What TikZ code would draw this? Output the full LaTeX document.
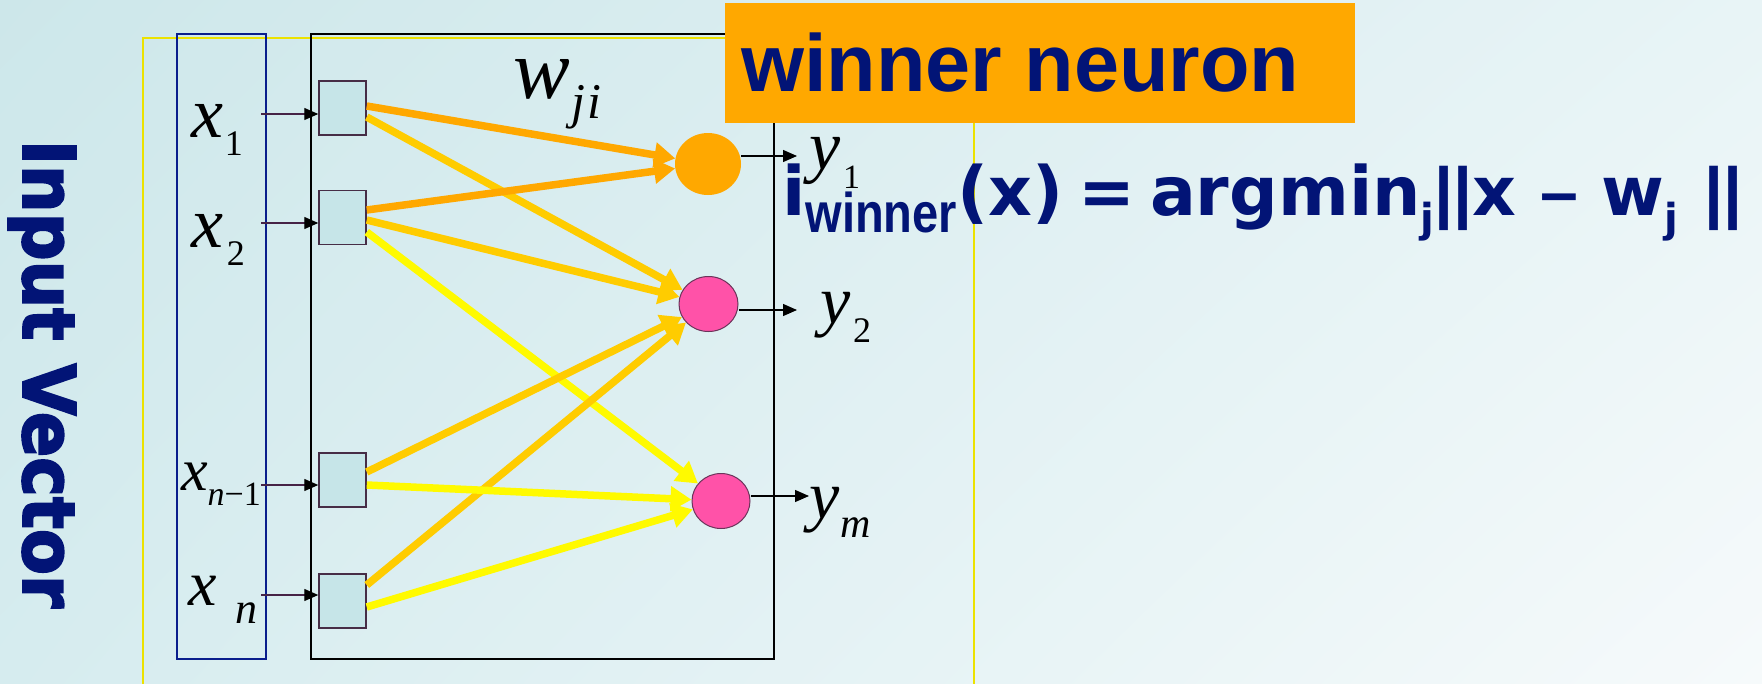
\documentclass[tikz,border=0pt]{standalone}
\usepackage{fontspec}
\setmainfont{Liberation Serif}
\newfontfamily\dvb{DejaVu Sans}
\newfontfamily\dvbh{DejaVu Sans}[BoldFeatures={FakeBold=3}]
\newfontfamily\lsb{Liberation Sans}
\usetikzlibrary{arrows.meta,shapes.geometric,calc,shadings}
\definecolor{navy}{RGB}{2,20,118}
\definecolor{orng}{RGB}{255,168,0}
\definecolor{gold}{RGB}{255,204,0}
\definecolor{yelw}{RGB}{255,250,0}
\definecolor{pinkc}{RGB}{255,82,168}
\definecolor{sqfill}{RGB}{198,229,232}
\definecolor{sqdraw}{RGB}{70,45,70}
\definecolor{arrline}{RGB}{70,35,70}
\definecolor{frameyel}{RGB}{236,226,0}
\definecolor{frameblue}{RGB}{10,30,140}
\definecolor{bgUL}{RGB}{205,231,234}
\definecolor{bgUR}{RGB}{232,244,246}
\definecolor{bgLL}{RGB}{214,236,239}
\definecolor{bgLR}{RGB}{246,250,251}
\newcommand\fs[1]{\fontsize{#1}{#1}\selectfont}
\begin{document}
\begin{tikzpicture}[x=1pt,y=-1pt,
  sq/.style={rectangle, minimum width=47, minimum height=54, inner sep=0, draw=sqdraw, fill=sqfill, line width=1.5pt},
  neuron/.style={ellipse, inner sep=0, draw=sqdraw!80!pinkc, line width=1pt, fill=pinkc},
  warr/.style={line width=7.5pt, -{Triangle[length=21pt,width=24pt]}},
  inarr/.style={line width=1.3pt, draw=arrline, -{Triangle[length=14pt,width=12pt,color=black]}},
  lab/.style={anchor=base west, inner sep=0, outer sep=0, font=\itshape},
]
\useasboundingbox (0,0) rectangle (1762,683);
\shade[upper left=bgUL, upper right=bgUR, lower left=bgLL, lower right=bgLR] (0,0) rectangle (1762,683);

% frames
\draw[frameyel, line width=2pt] (143,38) rectangle (974,695);
\draw[frameblue, line width=2pt] (177,34) rectangle (266,659);
\draw[black, line width=2.2pt] (311,34) rectangle (774,659);

% input squares
\node[sq] (s1) at (342.5,108) {};
\node[sq] (s2) at (342.5,217.5) {};
\node[sq] (s3) at (342.5,480) {};
\node[sq] (s4) at (342.5,601) {};

% output neurons
\node[ellipse, inner sep=0, minimum width=66, minimum height=62, fill=orng] (w1) at (708,164) {};
\node[neuron, minimum width=59, minimum height=55] (c2) at (708.5,304) {};
\node[neuron, minimum width=58, minimum height=55] (cm) at (721,501) {};

% weighted connections
\draw[warr, gold] ([yshift=-9pt]s1.east) -- (c2);
\draw[warr, yelw] ([yshift=-14.5pt]s2.east) -- (cm);
\draw[warr, gold] ([yshift=-2.5pt]s2.east) -- (c2);
\draw[warr, gold] ([yshift=8pt]s3.east) -- (c2);
\draw[warr, gold] ([yshift=16pt]s4.east) -- (c2);
\draw[warr, yelw] ([yshift=-5pt]s3.east) -- (cm);
\draw[warr, yelw] ([yshift=-6pt]s4.east) -- (cm);
\draw[warr, orng] ([yshift=2pt]s1.east) -- (w1);
\draw[warr, orng] ([yshift=7.5pt]s2.east) -- (w1);

% input arrows
\coordinate (i1) at (261,114);
\coordinate (i2) at (261,223);
\coordinate (i3) at (261,485);
\coordinate (i4) at (261,595);
\draw[inarr] (i1) -- (i1 -| s1.west);
\draw[inarr] (i2) -- (i2 -| s2.west);
\draw[inarr] (i3) -- (i3 -| s3.west);
\draw[inarr] (i4) -- (i4 -| s4.west);

% output arrows
\coordinate (o1) at (797,156);
\coordinate (o2) at (797,310);
\coordinate (om) at (809,496);
\draw[inarr, draw=black] (o1 -| w1.east) -- (o1);
\draw[inarr, draw=black] (o2 -| c2.east) -- (o2);
\draw[inarr, draw=black] (om -| cm.east) -- (om);

% labels
\node[lab] (lx1) at (191,137) {\fs{72}x\kern2pt\raisebox{-18pt}{\fs{36}\upshape 1}};
\node[lab] (lx2) at (191,247) {\fs{72}x\kern4pt\raisebox{-18pt}{\fs{36}\upshape 2}};
\node[lab] (lx3) at (181,490) {\fs{60}x\kern0pt\raisebox{-15pt}{\fs{34}n\upshape −1}};
\node[lab] (lx4) at (188,605) {\fs{64}x\kern19pt\raisebox{-18pt}{\fs{44}n}};
\node[lab] (lw) at (513,98) {\fs{85}w\kern2pt\raisebox{-20pt}{\fs{50}j\kern2pt i}};
\node[lab] (ly1) at (809,169) {\fs{70}y\kern3pt\raisebox{-19pt}{\fs{34}\upshape 1}};
\node[lab] (ly2) at (820,323) {\fs{68}y\kern3pt\raisebox{-19pt}{\fs{36}\upshape 2}};
\node[lab] (lym) at (809,518) {\fs{68}y\kern1pt\raisebox{-19pt}{\fs{42}m}};

% input vector caption
\node[anchor=center, inner sep=0, text=navy] (inv) at (42,374)
  {\rotatebox{-90}{\scalebox{0.93}[1]{\dvbh\bfseries\fs{72}Input Vector}}};

% winner neuron box
\node[anchor=north west, inner sep=0, minimum width=630, minimum height=120, fill=orng] (wbox) at (725,3) {};
\node[anchor=base west, inner sep=0, text=navy] (wtxt) at (741,91) {\lsb\bfseries\fs{81}winner neuron};

% formula
\node[anchor=base west, inner sep=0, text=navy] (formula) at (782,215) {\dvb\bfseries\fs{68}i\raisebox{-17pt}{\lsb\bfseries\fs{56}\scalebox{0.84}[1]{winner}}(x)\hspace{15pt}=\hspace{15pt}argmin\raisebox{-17pt}{\fs{40}j}{\lsb\bfseries ||}x {\lsb\bfseries –} w\raisebox{-17pt}{\fs{40}j}\hspace{26pt}{\lsb\bfseries ||}};
\end{tikzpicture}
\end{document}
